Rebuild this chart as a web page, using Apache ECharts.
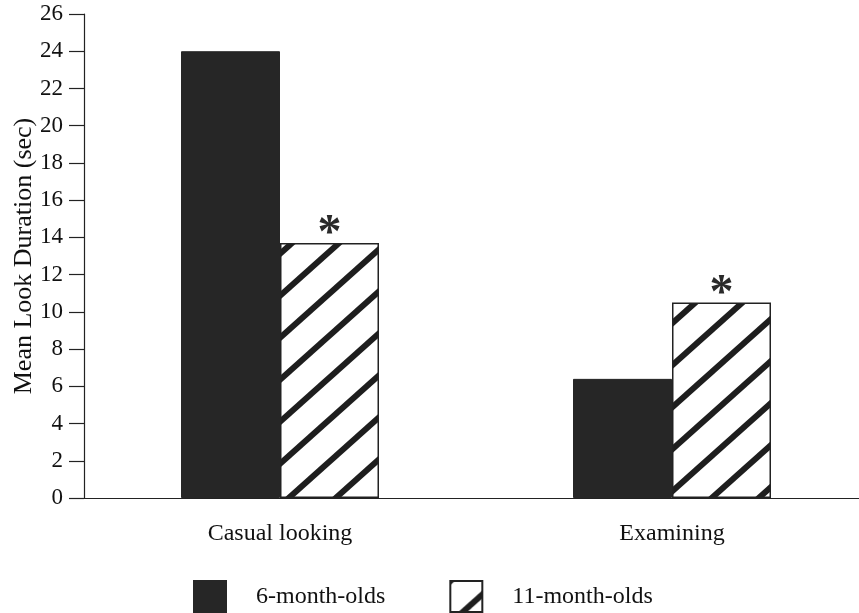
<!DOCTYPE html>
<html>
<head>
<meta charset="utf-8">
<script src="https://cdn.jsdelivr.net/npm/echarts@6/dist/echarts.min.js"></script>
<style>
html,body{margin:0;padding:0;background:#fff;}
#chart{width:859px;height:613px;}
</style>
</head>
<body>
<div id="chart"></div>
<script>
// ---- data ----
const categories = ['Casual looking', 'Examining'];
const seriesNames = ['6-month-olds', '11-month-olds'];
const sixMonthOlds = [24.0, 6.4];
const elevenMonthOlds = [13.7, 10.5];
const significance = ['*', '*'];
const yMin = 0, yMax = 26, yInterval = 2;
const yAxisTitle = 'Mean Look Duration (sec)';

// ---- hatch pattern ----
function makeHatch() {
  const w = 47, h = 42;
  const c = document.createElement('canvas');
  c.width = w; c.height = h;
  const ctx = c.getContext('2d');
  ctx.fillStyle = '#ffffff';
  ctx.fillRect(0, 0, w, h);
  ctx.strokeStyle = '#1e1e1e';
  ctx.lineWidth = 6;
  [-w, 0, w].forEach(function (dx) {
    ctx.beginPath();
    ctx.moveTo(dx - w, 2 * h);
    ctx.lineTo(dx + 2 * w, -h);
    ctx.stroke();
  });
  return c;
}

const serif = 'Liberation Serif';
const chart = echarts.init(document.getElementById('chart'));
chart.setOption({
  animation: false,
  backgroundColor: '#ffffff',
  textStyle: { fontFamily: serif, color: '#111' },
  grid: { left: 84, top: 14, width: 784, bottom: 115, containLabel: false, outerBoundsMode: 'none' },
  legend: {
    left: 193, top: 580, padding: 0,
    itemWidth: 32, itemHeight: 31, itemGap: 64,
    icon: 'rect',
    textStyle: { fontFamily: serif, fontSize: 24, color: '#111', padding: [0, 0, 0, 25] },
    data: seriesNames
  },
  xAxis: {
    type: 'category',
    data: categories,
    axisLine: { lineStyle: { color: '#222', width: 1.2 } },
    axisTick: { alignWithLabel: true, length: 12, lineStyle: { color: '#222', width: 1.2 } },
    axisLabel: { fontFamily: serif, fontSize: 24, color: '#111', margin: 24 },
    splitLine: { show: false }
  },
  yAxis: {
    type: 'value',
    min: yMin, max: yMax, interval: yInterval,
    name: yAxisTitle,
    nameLocation: 'middle',
    nameGap: 47,
    nameMoveOverlap: false,
    nameTextStyle: { fontFamily: serif, fontSize: 26, color: '#111' },
    axisLine: { show: true, lineStyle: { color: '#222', width: 1.2 } },
    axisTick: { show: true, length: 15, lineStyle: { color: '#222', width: 1.2 } },
    axisLabel: { fontFamily: serif, fontSize: 23, color: '#111', margin: 21 },
    splitLine: { show: false }
  },
  series: [
    {
      name: seriesNames[0],
      type: 'bar',
      data: sixMonthOlds,
      barWidth: 99,
      barGap: '0%',
      itemStyle: { color: '#262626', borderColor: '#262626', borderWidth: 1 }
    },
    {
      name: seriesNames[1],
      type: 'bar',
      data: elevenMonthOlds,
      barWidth: 99,
      barGap: '0%',
      itemStyle: { color: { image: makeHatch(), repeat: 'repeat' }, borderColor: '#222', borderWidth: 1.5 },
      label: {
        show: true,
        position: 'top',
        distance: -16,
        fontFamily: serif,
        fontSize: 48,
        fontWeight: 'bold',
        color: '#2a2a2a',
        formatter: function (p) { return significance[p.dataIndex]; }
      }
    }
  ]
});
</script>
</body>
</html>
